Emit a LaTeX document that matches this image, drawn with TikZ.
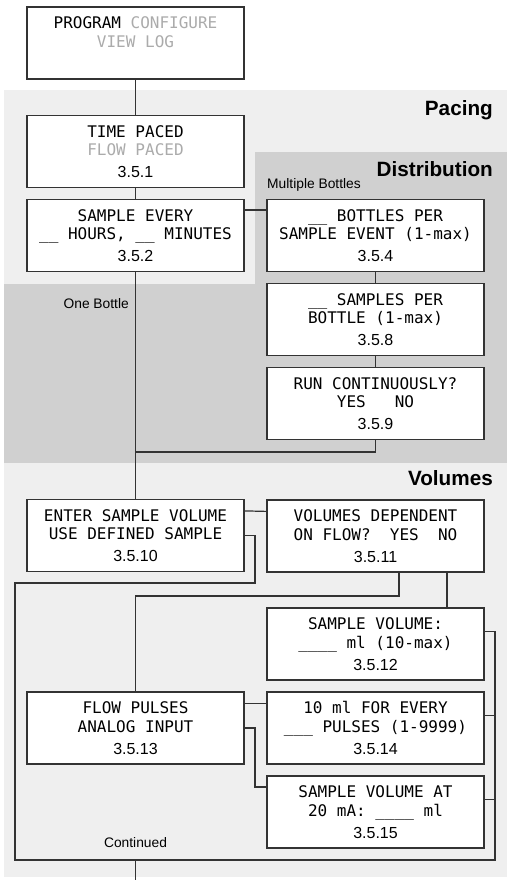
\documentclass[tikz,border=0pt]{standalone}
\usepackage{fontspec}
\setmainfont{Liberation Sans}
\newfontfamily\monof{DejaVu Sans Mono}
\usetikzlibrary{calc}
\definecolor{bglight}{HTML}{EFEFEF}
\definecolor{bgdark}{HTML}{D0D0D0}
\definecolor{ln}{HTML}{333333}
\definecolor{dim}{HTML}{ABABAB}
\newcommand{\boxnum}[1]{{\rmfamily\fontsize{16}{18.5}\selectfont #1}}
\begin{document}
\begin{tikzpicture}[x=1pt,y=-1pt,
  panel/.style={draw=ln, line width=1.2pt, fill=white, minimum width=217pt,
    minimum height=72pt, inner sep=0pt, align=center,
    font=\monof\fontsize{16}{18.5}\selectfont},
  conn/.style={draw=ln, line width=1.2pt},
  sect/.style={font=\bfseries\fontsize{20.7}{24}\selectfont, anchor=base east, inner sep=0pt},
  note/.style={font=\fontsize{13.8}{16}\selectfont, inner sep=0pt}]
\useasboundingbox (0,0) rectangle (507,880);
% backgrounds
\fill[bglight] (4,90) rectangle (507,877);
\fill[bgdark] (255,152) rectangle (507,463);
\fill[bgdark] (4,284) rectangle (507,463);
% section labels
\node[sect] (lpacing) at (493,116) {Pacing};
\node[sect] (ldist) at (493,176) {Distribution};
\node[sect] (lvol) at (493,485) {Volumes};
\node[note, anchor=base west] (lmulti) at (267,188) {Multiple Bottles};
\node[note, anchor=base east] (lone) at (129,308) {One Bottle};
\node[note, anchor=base] (lcont) at (135.5,847) {Continued};
% boxes
\node[panel] (top) at (135.5,43) {PROGRAM \textcolor{dim}{CONFIGURE}\\\textcolor{dim}{VIEW LOG}\\[3.5pt]\boxnum{\phantom{3}}};
\node[panel] (tp) at (135.5,151.5) {TIME PACED\\\textcolor{dim}{FLOW PACED}\\[3.5pt]\boxnum{3.5.1}};
\node[panel] (se) at (135.5,235.5) {SAMPLE EVERY\\\_\_ HOURS, \_\_ MINUTES\\[3.5pt]\boxnum{3.5.2}};
\node[panel] (b354) at (375.5,235.5) {\_\_ BOTTLES PER\\SAMPLE EVENT (1-max)\\[3.5pt]\boxnum{3.5.4}};
\node[panel] (b358) at (375.5,319.5) {\_\_ SAMPLES PER\\BOTTLE (1-max)\\[3.5pt]\boxnum{3.5.8}};
\node[panel] (b359) at (375.5,403.5) {RUN CONTINUOUSLY?\\YES~~~NO\\[3.5pt]\boxnum{3.5.9}};
\node[panel] (b3510) at (135.5,535.5) {ENTER SAMPLE VOLUME\\USE DEFINED SAMPLE\\[3.5pt]\boxnum{3.5.10}};
\node[panel] (b3511) at (375.5,536) {VOLUMES DEPENDENT\\ON FLOW?~~YES~~NO\\[3.5pt]\boxnum{3.5.11}};
\node[panel] (b3512) at (375.5,644) {SAMPLE VOLUME:\\\_\_\_\_ ml (10-max)\\[3.5pt]\boxnum{3.5.12}};
\node[panel] (b3513) at (135.5,728) {FLOW PULSES\\ANALOG INPUT\\[3.5pt]\boxnum{3.5.13}};
\node[panel] (b3514) at (375.5,728) {10 ml FOR EVERY\\\_\_\_ PULSES (1-9999)\\[3.5pt]\boxnum{3.5.14}};
\node[panel] (b3515) at (375.5,812) {SAMPLE VOLUME AT\\20 mA: \_\_\_\_ ml\\[3.5pt]\boxnum{3.5.15}};
% helper coordinates
\coordinate (j1) at (135.5,452);
\coordinate (r1) at (255,583);
\coordinate (l1) at (15,583);
\coordinate (l2) at (15,860);
\coordinate (r2) at (495,860);
\coordinate (c1) at (399,596);
\coordinate (c2) at (447,590);
\coordinate (c3) at (255,787);
\coordinate (cont) at (135.5,880);
% connectors
\draw[conn] (top) -- (tp);
\draw[conn] (tp) -- (se);
\draw[conn] (se) -- (b3510);
\draw[conn] ([yshift=-11pt]se.north east) -- ([yshift=-11pt]b354.north west);
\draw[conn] (b354) -- (b358);
\draw[conn] (b358) -- (b359);
\draw[conn] (b359.south) |- (j1);
\draw[conn] ([yshift=-12pt]b3510.north east) -- ([yshift=-12pt]b3511.north west);
\draw[conn] (b3510.east) -| (r1) -- (l1) -- (l2) -- (r2) |- ([yshift=-24pt]b3512.north east);
\draw[conn] ([yshift=-24pt]b3514.north east) -- ([yshift=-24pt]b3514.north east -| r2);
\draw[conn] ([yshift=-24pt]b3515.north east) -- ([yshift=-24pt]b3515.north east -| r2);
\draw[conn] (c1 |- b3511.south) -- (c1) -| (b3513.north);
\draw[conn] (c2 |- b3511.south) -- (c2 |- b3512.north);
\draw[conn] ([yshift=-12pt]b3513.north east) -- ([yshift=-12pt]b3514.north west);
\draw[conn] (b3513.east) -| (c3) -- (c3 -| b3515.west);
\draw[conn] (cont |- l2) -- (cont);
\end{tikzpicture}
\end{document}
